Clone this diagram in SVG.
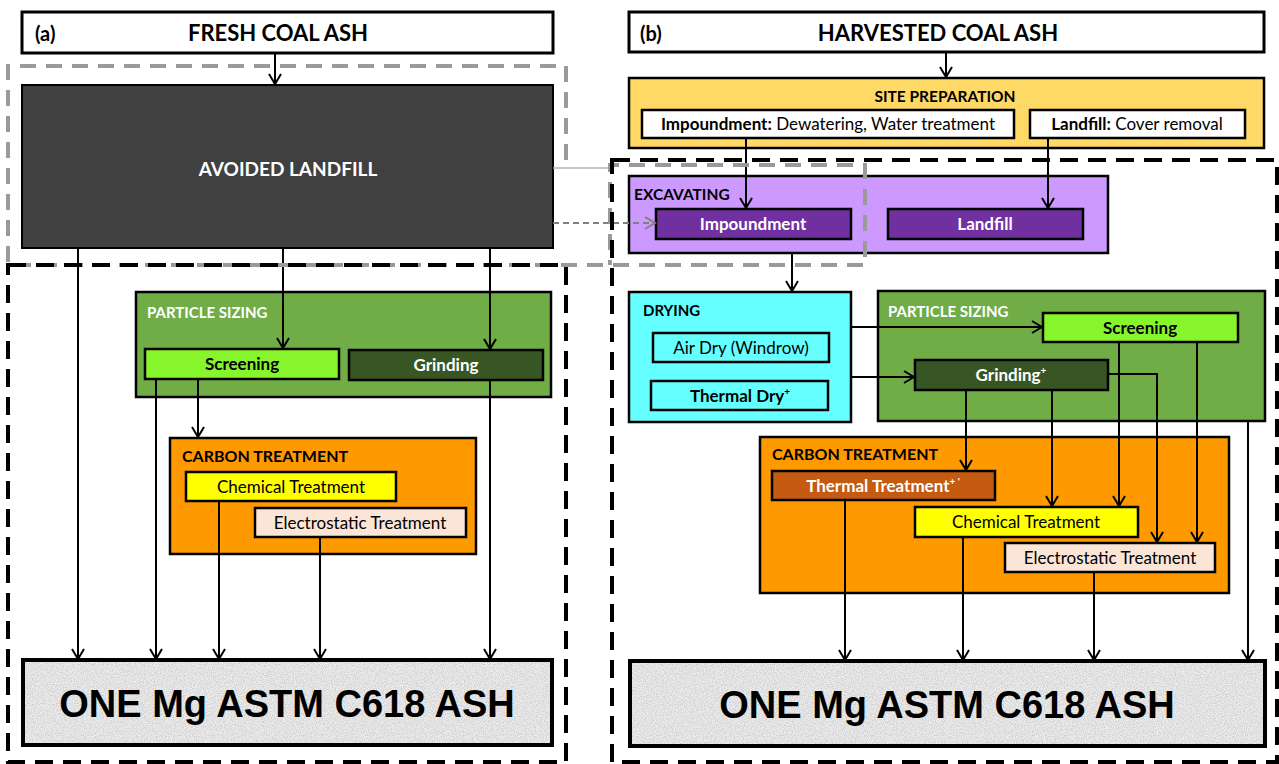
<svg xmlns="http://www.w3.org/2000/svg" width="1279" height="764" viewBox="0 0 1279 764">
<defs>
<style>
text{font-family:Lato,"Open Sans","Liberation Sans",sans-serif;fill:#000}
.b{stroke:#000;stroke-width:2.5}
.t{font-size:17px;text-anchor:middle}
.bold{font-weight:bold}
.lbl{font-size:15px;font-weight:bold}
.w{fill:#fff}
.head{font-size:22px;font-weight:bold}
.big{font-family:"Liberation Sans",Arial,sans-serif;font-size:38px;font-weight:bold;text-anchor:middle}
.c{fill:none;stroke:#000;stroke-width:2;marker-end:url(#arr)}
.bd{fill:none;stroke:#000;stroke-width:4;stroke-dasharray:18 10}
.gd{fill:none;stroke:#9a9a9a;stroke-width:4;stroke-dasharray:16 10}
.ps{fill:#70AD47}
.ct{fill:#FF9900}
.scr{fill:#86F52C}
.gr{fill:#375623}
.chem{fill:#FFFF00}
.el{fill:#FBE5D6}
.one{fill:#ECECEC;stroke:#000;stroke-width:4}
</style>
<marker id="arr" viewBox="-12 -7 14 14" refX="0" refY="0" markerWidth="14" markerHeight="14" markerUnits="userSpaceOnUse" orient="auto">
<path d="M-10,-6 L0,0 L-10,6" fill="none" stroke="#000" stroke-width="2"/>
</marker>
<marker id="garr" viewBox="-12 -7 14 14" refX="0" refY="0" markerWidth="14" markerHeight="14" markerUnits="userSpaceOnUse" orient="auto">
<path d="M-10,-6 L0,0 L-10,6" fill="none" stroke="#808080" stroke-width="2"/>
</marker>
<filter id="grain" x="0" y="0" width="100%" height="100%">
<feTurbulence type="fractalNoise" baseFrequency="0.9" numOctaves="2" seed="3" result="n"/>
<feColorMatrix in="n" type="matrix" values="0 0 0 0 0.5  0 0 0 0 0.5  0 0 0 0 0.5  0 0 0 -1.6 1.0" result="g"/>
<feComposite in="g" in2="SourceGraphic" operator="in"/>
</filter>
</defs>
<rect width="1279" height="764" fill="#fff"/>

<!-- ===== Panel (a) ===== -->
<g id="fresh-coal-ash">
<rect x="22" y="12" width="531" height="41" fill="#fff" stroke="#000" stroke-width="3"/>
<text x="35" y="41" class="head" style="font-size:20px">(a)</text>
<text x="278" y="41" class="head" text-anchor="middle">FRESH COAL ASH</text>
</g>
<g id="avoided-landfill">
<rect x="22" y="85" width="531" height="163" fill="#404040" stroke="#000" stroke-width="2"/>
<text x="288" y="176" class="w bold" style="font-size:19px" text-anchor="middle">AVOIDED LANDFILL</text>
</g>
<g id="a-particle-sizing">
<rect x="136" y="292" width="415" height="105" class="ps b"/>
<text x="147" y="318" class="lbl w">PARTICLE SIZING</text>
</g>
<g id="a-screening">
<rect x="145" y="349" width="194" height="30" class="scr b"/>
<text x="242" y="370" class="t bold">Screening</text>
</g>
<g id="a-grinding">
<rect x="349" y="350" width="194" height="30" class="gr b"/>
<text x="446" y="371" class="t bold w">Grinding</text>
</g>
<g id="a-carbon-treatment">
<rect x="170" y="438" width="306" height="116" class="ct b" stroke-width="3"/>
<text x="182" y="462" class="lbl" style="font-size:16px">CARBON TREATMENT</text>
</g>
<g id="a-chemical">
<rect x="186" y="472" width="210" height="29" class="chem b"/>
<text x="291" y="493" class="t">Chemical Treatment</text>
</g>
<g id="a-electrostatic">
<rect x="255" y="508" width="211" height="29" class="el b"/>
<text x="360" y="529" class="t">Electrostatic Treatment</text>
</g>
<g id="a-output">
<rect x="23" y="660" width="529" height="85" class="one"/>
<rect x="25" y="662" width="525" height="81" fill="#fff" filter="url(#grain)"/>
<text x="287" y="717" class="big">ONE Mg ASTM C618 ASH</text>
</g>

<!-- ===== Panel (b) ===== -->
<g id="harvested-coal-ash">
<rect x="629" y="12" width="635" height="40" fill="#fff" stroke="#000" stroke-width="3"/>
<text x="640" y="41" class="head" style="font-size:20px">(b)</text>
<text x="938" y="41" class="head" text-anchor="middle">HARVESTED COAL ASH</text>
</g>
<g id="site-preparation">
<rect x="629" y="78" width="635" height="70" fill="#FFD966" class="b"/>
<text x="945" y="102" class="lbl" style="font-size:15.5px" text-anchor="middle">SITE PREPARATION</text>
</g>
<g id="sp-impoundment">
<rect x="642" y="110" width="372" height="28" fill="#fff" class="b"/>
<text x="828" y="130" class="t"><tspan class="bold">Impoundment:</tspan> Dewatering, Water treatment</text>
</g>
<g id="sp-landfill">
<rect x="1030" y="110" width="215" height="28" fill="#fff" class="b"/>
<text x="1137" y="130" class="t"><tspan class="bold">Landfill:</tspan> Cover removal</text>
</g>
<g id="excavating">
<rect x="629" y="176" width="479" height="77" fill="#CC99FF" class="b"/>
<text x="634" y="200" class="lbl" style="font-size:15.5px">EXCAVATING</text>
</g>
<g id="ex-impoundment">
<rect x="656" y="209" width="195" height="30" fill="#7030A0" class="b"/>
<text x="753" y="230" class="t bold w">Impoundment</text>
</g>
<g id="ex-landfill">
<rect x="888" y="209" width="195" height="30" fill="#7030A0" class="b"/>
<text x="985" y="230" class="t bold w">Landfill</text>
</g>
<g id="drying">
<rect x="629" y="292" width="222" height="130" fill="#66FFFF" class="b"/>
<text x="643" y="316" class="lbl">DRYING</text>
</g>
<g id="air-dry">
<rect x="653" y="333" width="176" height="29" fill="#66FFFF" class="b"/>
<text x="741" y="354" class="t">Air Dry (Windrow)</text>
</g>
<g id="thermal-dry">
<rect x="651" y="381" width="177" height="29" fill="#66FFFF" class="b"/>
<text x="740" y="402" class="t bold">Thermal Dry<tspan dy="-7" style="font-size:10px">+</tspan></text>
</g>
<g id="b-particle-sizing">
<rect x="878" y="291" width="387" height="130" class="ps b"/>
<text x="888" y="317" class="lbl w">PARTICLE SIZING</text>
</g>
<g id="b-screening">
<rect x="1043" y="313" width="195" height="29" class="scr b"/>
<text x="1140" y="334" class="t bold">Screening</text>
</g>
<g id="b-grinding">
<rect x="915" y="360" width="193" height="30" class="gr b"/>
<text x="1011" y="381" class="t bold w">Grinding<tspan dy="-7" style="font-size:10px">+</tspan></text>
</g>
<g id="b-carbon-treatment">
<rect x="760" y="437" width="469" height="156" class="ct b" stroke-width="3"/>
<text x="772" y="460" class="lbl" style="font-size:16px">CARBON TREATMENT</text>
</g>
<g id="b-thermal-treatment">
<rect x="772" y="471" width="223" height="29" fill="#C55A11" class="b"/>
<text x="883" y="492" class="t bold w">Thermal Treatment<tspan dy="-7" style="font-size:10px">+ '</tspan></text>
</g>
<g id="b-chemical">
<rect x="915" y="507" width="223" height="30" class="chem b"/>
<text x="1026" y="528" class="t">Chemical Treatment</text>
</g>
<g id="b-electrostatic">
<rect x="1005" y="543" width="210" height="29" class="el b"/>
<text x="1110" y="564" class="t">Electrostatic Treatment</text>
</g>
<g id="b-output">
<rect x="630" y="661" width="635" height="85" class="one"/>
<rect x="632" y="663" width="631" height="81" fill="#fff" filter="url(#grain)"/>
<text x="947" y="718" class="big">ONE Mg ASTM C618 ASH</text>
</g>

<!-- ===== Connectors ===== -->
<g id="connectors">
<line x1="275" y1="53" x2="275" y2="84" class="c"/>
<line x1="78" y1="248" x2="78" y2="659" class="c"/>
<line x1="283" y1="248" x2="283" y2="348" class="c"/>
<line x1="490" y1="248" x2="490" y2="349" class="c"/>
<line x1="156" y1="379" x2="156" y2="659" class="c"/>
<line x1="198" y1="379" x2="198" y2="437" class="c"/>
<line x1="490" y1="380" x2="490" y2="659" class="c"/>
<line x1="219" y1="501" x2="219" y2="659" class="c"/>
<line x1="320" y1="537" x2="320" y2="659" class="c"/>
<line x1="553" y1="223" x2="655" y2="223" fill="none" stroke="#808080" stroke-width="2" stroke-dasharray="6 4" marker-end="url(#garr)"/>

<line x1="946" y1="52" x2="946" y2="77" class="c"/>
<line x1="746" y1="138" x2="746" y2="208" class="c"/>
<line x1="1048" y1="138" x2="1048" y2="208" class="c"/>
<line x1="792" y1="253" x2="792" y2="291" class="c"/>
<line x1="851" y1="327" x2="1042" y2="327" class="c"/>
<line x1="851" y1="377" x2="914" y2="377" class="c"/>
<line x1="966" y1="390" x2="966" y2="470" class="c"/>
<line x1="1052" y1="390" x2="1052" y2="506" class="c"/>
<polyline points="1108,374 1157,374 1157,542" class="c"/>
<line x1="1119" y1="342" x2="1119" y2="506" class="c"/>
<line x1="1197" y1="342" x2="1197" y2="542" class="c"/>
<line x1="1248" y1="421" x2="1248" y2="660" class="c"/>
<line x1="845" y1="500" x2="845" y2="660" class="c"/>
<line x1="963" y1="537" x2="963" y2="660" class="c"/>
<line x1="1094" y1="572" x2="1094" y2="660" class="c"/>
</g>

<!-- ===== Boundaries ===== -->
<g id="boundaries">
<line x1="553" y1="168" x2="612" y2="168" stroke="#b0b0b0" stroke-width="1.5"/>
<path d="M566,160 V66 H8 V265 H865 V165 H610 V265" class="gd"/>
<rect x="8" y="265" width="558" height="497" class="bd"/>
<rect x="612" y="160" width="665" height="602" class="bd"/>
</g>
</svg>
